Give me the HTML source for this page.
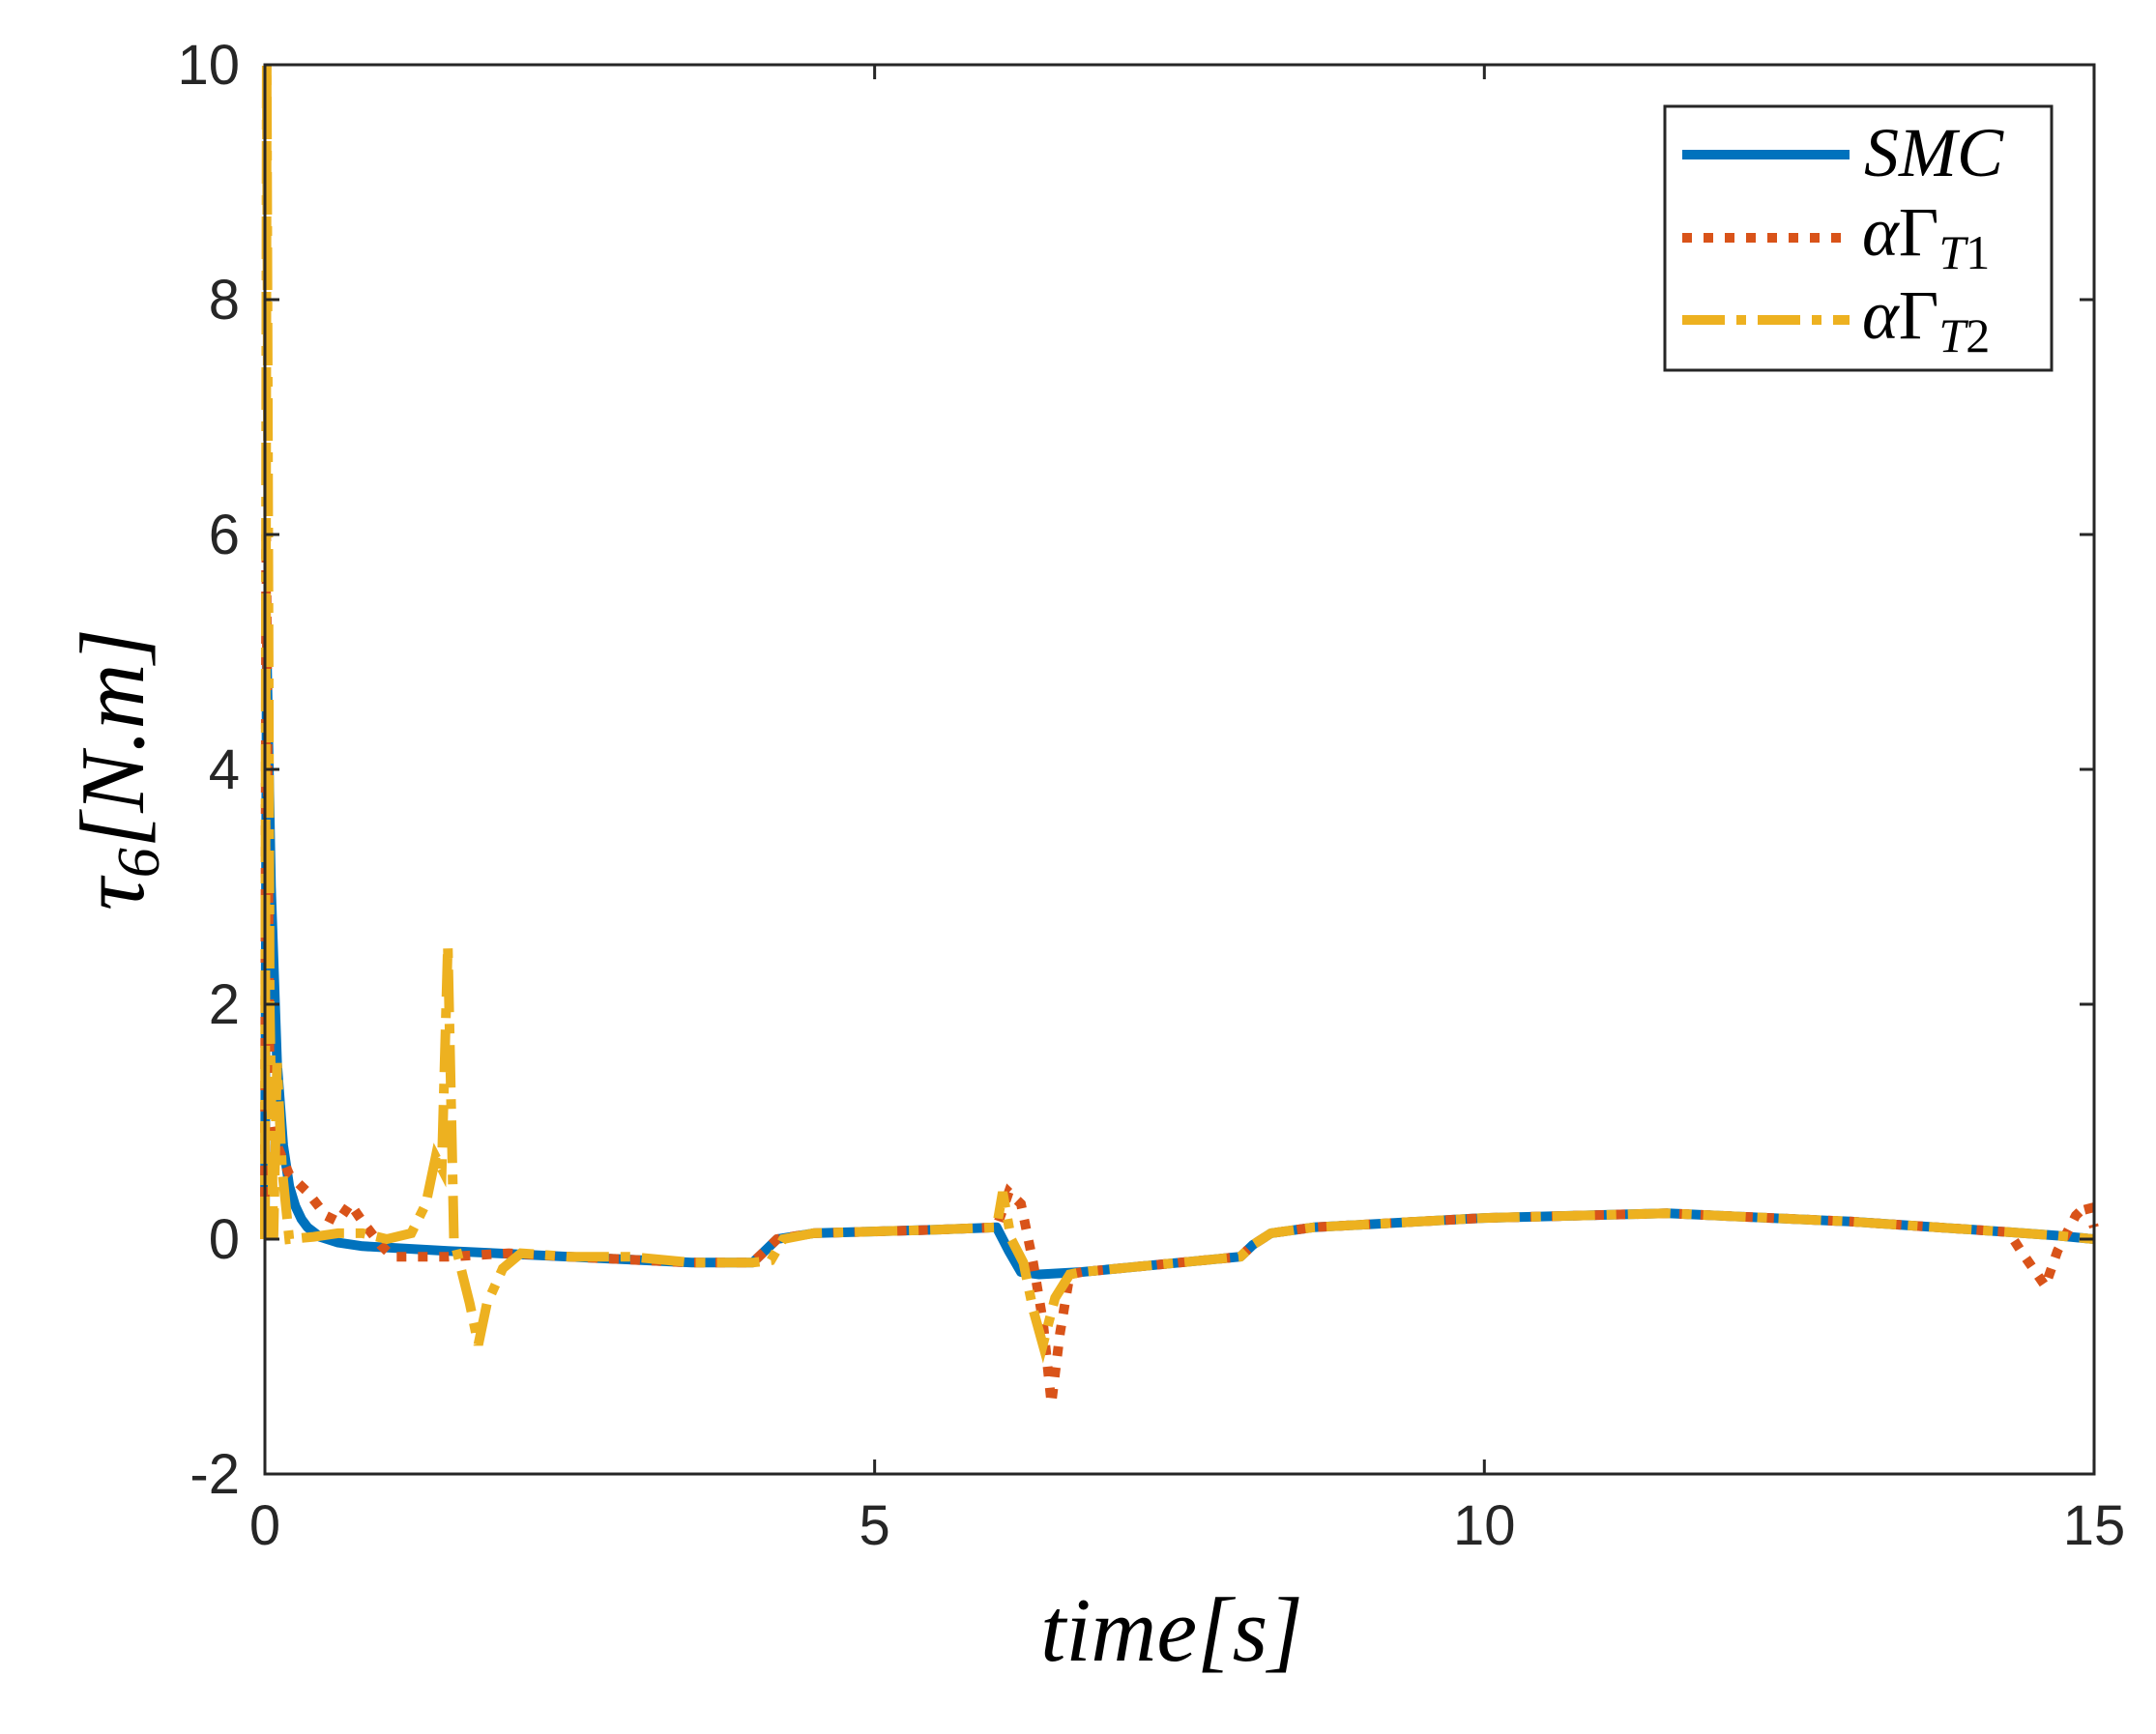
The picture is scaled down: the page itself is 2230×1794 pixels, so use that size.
<!DOCTYPE html>
<html><head><meta charset="utf-8"><style>
html,body{margin:0;padding:0;background:#fff;}
svg{display:block;}
.t{font-family:"Liberation Sans",sans-serif;font-size:58px;fill:#262626;}
.m{font-family:"Liberation Serif",serif;font-style:italic;fill:#000;}
</style></head><body>
<svg id="s" width="2230" height="1794" xmlns="http://www.w3.org/2000/svg">
<rect width="2230" height="1794" fill="#fff"/>
<g id="plot"></g>
<rect x="274" y="67" width="1892" height="1458" fill="none" stroke="#262626" stroke-width="3"/>
<g id="ticks" stroke="#262626" stroke-width="3"></g>
<g id="labels"></g>
<text class="m" x="1212" y="1718" font-size="94" text-anchor="middle">time[s]</text>
<text class="m" transform="translate(148,796) rotate(-90)" font-size="94" text-anchor="middle">τ<tspan font-size="62" dy="16">6</tspan><tspan dy="-16">[N.m]</tspan></text>
<rect x="1722" y="110" width="400" height="273" fill="#fff" stroke="#262626" stroke-width="3"/>
<line x1="1740" y1="160" x2="1913" y2="160" stroke="#0072BD" stroke-width="10"/>
<line x1="1740" y1="246" x2="1913" y2="246" stroke="#D95319" stroke-width="10" stroke-dasharray="10,12"/>
<line x1="1740" y1="331" x2="1913" y2="331" stroke="#EDB120" stroke-width="10" stroke-dasharray="44,12,10,12"/>
<text class="m" x="1928" y="182" font-size="72">SMC</text>
<text class="m" x="1926" y="264" font-size="72">α<tspan font-style="normal">Γ</tspan><tspan font-size="50" dy="14">T</tspan><tspan font-size="50" font-style="normal">1</tspan></text>
<text class="m" x="1926" y="350" font-size="72">α<tspan font-style="normal">Γ</tspan><tspan font-size="50" dy="14">T</tspan><tspan font-size="50" font-style="normal">2</tspan></text>
</svg>
<script>
var X=function(t){return 274+t*126.13;},Y=function(v){return 1282-v*121.5;};
var ns="http://www.w3.org/2000/svg";
function el(p,n,a,txt){var e=document.createElementNS(ns,n);for(var k in a)e.setAttribute(k,a[k]);if(txt!==undefined)e.textContent=txt;document.getElementById(p).appendChild(e);}
for(var t=0;t<=15;t+=5){var x=X(t);el('ticks','line',{x1:x,y1:1525,x2:x,y2:1510});el('ticks','line',{x1:x,y1:67,x2:x,y2:82});
el('labels','text',{x:x,y:1598,'text-anchor':'middle','class':'t'},String(t));}
for(var v=-2;v<=10;v+=2){var y=Y(v);el('ticks','line',{x1:274,y1:y,x2:289,y2:y});el('ticks','line',{x1:2166,y1:y,x2:2151,y2:y});
el('labels','text',{x:248,y:y+20,'text-anchor':'end','class':'t'},String(v));}
function P(d){return d.map(function(p,i){return (i?'L':'M')+X(p[0]).toFixed(1)+','+Y(p[1]).toFixed(1);}).join('');}
var base=[[0.45,0.02],[0.6,-0.03],[0.8,-0.06],[1.5,-0.1],[2.5,-0.15],[3.5,-0.2],[4.0,-0.2],[4.1,-0.1],[4.2,0.0],[4.5,0.05],[5.5,0.08],[6.0,0.1]];
var mid=[[6.7,-0.28],[7.5,-0.2],[8.0,-0.15],[8.1,-0.05],[8.25,0.05],[8.6,0.1],[10,0.18],[11.5,0.22],[13,0.15],[14.3,0.06]];
var smc=[[0,0],[0.015,5],[0.05,3],[0.1,1.5],[0.15,0.8],[0.2,0.45],[0.25,0.28],[0.3,0.17],[0.35,0.1]].concat(base,[[6.1,-0.1],[6.2,-0.28],[6.35,-0.3]],mid,[[14.7,0.03],[15,0]]);
var o1=[[0,0],[0.01,6],[0.04,1.2],[0.1,0.8],[0.2,0.55],[0.35,0.4],[0.5,0.2],[0.6,0.15],[0.7,0.3],[0.8,0.15],[0.95,-0.05],[1.05,-0.15],[1.5,-0.15],[2.0,-0.12],[2.5,-0.15],[3.5,-0.2],[4.0,-0.2],[4.1,-0.1],[4.2,0.0],[4.5,0.05],[5.5,0.08],[6.0,0.1],[6.1,0.4],[6.2,0.3],[6.3,-0.2],[6.38,-0.7],[6.45,-1.4],[6.52,-0.8],[6.6,-0.3]].concat(mid,[[14.4,-0.1],[14.6,-0.4],[14.7,-0.1],[14.85,0.2],[14.95,0.3],[15,0.1]]);
var o2=[[0,0],[0.015,10],[0.04,2],[0.07,0],[0.1,1.5],[0.14,0.6],[0.2,0.0],[0.4,0.02],[0.6,0.05],[0.8,0.05],[1.0,0.0],[1.2,0.05],[1.32,0.3],[1.4,0.7],[1.45,0.6],[1.5,2.5],[1.55,0.0],[1.62,-0.3],[1.68,-0.55],[1.75,-0.9],[1.82,-0.55],[1.95,-0.25],[2.1,-0.12],[2.5,-0.15],[3.0,-0.15],[3.5,-0.2],[4.0,-0.2],[4.15,-0.18],[4.25,0.0],[4.5,0.05],[5.5,0.08],[6.0,0.1],[6.05,0.4],[6.12,0.0],[6.22,-0.2],[6.3,-0.6],[6.38,-0.9],[6.48,-0.5],[6.6,-0.3]].concat(mid,[[14.7,0.03],[15,0]]);
el('plot','path',{d:P(smc),fill:'none',stroke:'#0072BD','stroke-width':10,'stroke-linejoin':'round'});
el('plot','path',{d:P(o1),fill:'none',stroke:'#D95319','stroke-width':10,'stroke-dasharray':'10,12'});
el('plot','path',{d:P(o2),fill:'none',stroke:'#EDB120','stroke-width':10,'stroke-dasharray':'44,12,10,12'});
</script>
</body></html>
